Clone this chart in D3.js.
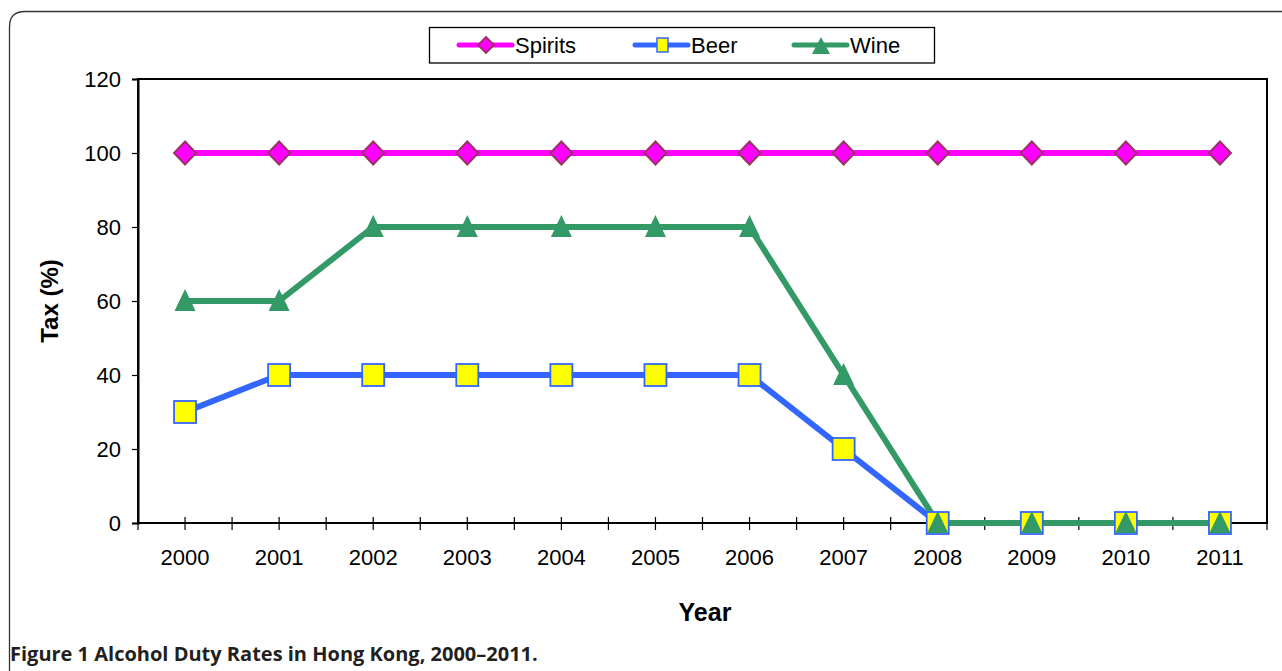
<!DOCTYPE html>
<html><head><meta charset="utf-8">
<script src="https://cdn.jsdelivr.net/npm/d3@7"></script>
<style>body{margin:0;background:#fff}svg{display:block}</style>
</head><body>
<svg id="c" width="1282" height="671"></svg>
<script>
const years = ["2000","2001","2002","2003","2004","2005","2006","2007","2008","2009","2010","2011"];
const spirits = [100,100,100,100,100,100,100,100,100,100,100,100];
const beer = [30,40,40,40,40,40,40,20,0,0,0,0];
const wine = [60,60,80,80,80,80,80,40,0,0,0,0];
const yTicks = [0,20,40,60,80,100,120];
const seriesNames = ["Spirits","Beer","Wine"];

const svg = d3.select("#c");
const L = 138, R = 1267, T = 79, B = 523;

// outer frame
svg.append("path")
  .attr("d", `M9.5,680 L9.5,27 Q9.5,11.5 25,11.5 L1290,11.5`)
  .attr("fill","none").attr("stroke","#333").attr("stroke-width",1.3);

const x = d3.scaleBand().domain(years).range([L,R]);
const y = d3.scaleLinear().domain([0,120]).range([B,T]);
const cx = d => x(d) + x.bandwidth()/2;

// plot box
svg.append("rect").attr("x",L).attr("y",T).attr("width",R-L).attr("height",B-T)
  .attr("fill","none").attr("stroke","#000").attr("stroke-width",2);

// y axis
const ya = svg.append("g").attr("transform",`translate(${L},0)`)
  .call(d3.axisLeft(y).tickValues(yTicks).tickSize(6).tickPadding(11));
ya.select(".domain").attr("stroke-width",2);
ya.selectAll("line").attr("stroke-width",1.2);
ya.selectAll("text").attr("font-family","Liberation Sans, Arial").attr("font-size",22).attr("fill","#000");

// x axis
const xa = svg.append("g").attr("transform",`translate(0,${B})`)
  .call(d3.axisBottom(x).tickSize(0).tickPadding(26));
xa.select(".domain").remove();
xa.selectAll("text").attr("font-family","Liberation Sans, Arial").attr("font-size",22).attr("fill","#000");
const tickPos = years.map(cx).concat(years.map(d=>x(d))).concat([R]);
svg.append("g").selectAll("line").data(tickPos).join("line")
  .attr("x1",d=>d).attr("x2",d=>d).attr("y1",B-6).attr("y2",B+7)
  .attr("stroke","#000").attr("stroke-width",1.2);

// axis titles
svg.append("text").attr("transform","translate(58,301) rotate(-90)")
  .attr("text-anchor","middle").attr("font-family","Liberation Sans, Arial")
  .attr("font-weight","bold").attr("font-size",24).text("Tax (%)");
svg.append("text").attr("x",705).attr("y",621).attr("text-anchor","middle")
  .attr("font-family","Liberation Sans, Arial").attr("font-weight","bold").attr("font-size",25).text("Year");

// lines
const line = d3.line().x((d,i)=>cx(years[i])).y(d=>y(d));
const colors = {Spirits:"#ff00ff", Beer:"#3366ff", Wine:"#339966"};
const data = {Spirits:spirits, Beer:beer, Wine:wine};

function marker(g, name, px, py){
  if(name==="Spirits"){
    g.append("path").attr("d",`M${px},${py-11.5}L${px+11},${py}L${px},${py+11.5}L${px-11},${py}Z`)
      .attr("fill","#ff00ff").attr("stroke","#993366").attr("stroke-width",2);
  } else if(name==="Beer"){
    g.append("rect").attr("x",px-11).attr("y",py-11).attr("width",22).attr("height",22)
      .attr("fill","#ffff00").attr("stroke","#3366ff").attr("stroke-width",1.8);
  } else {
    g.append("path").attr("d",`M${px},${py-12}L${px+10.5},${py+10}L${px-10.5},${py+10}Z`)
      .attr("fill","#339966");
  }
}

["Spirits","Beer","Wine"].forEach(name=>{
  svg.append("path").datum(data[name]).attr("d",line)
    .attr("fill","none").attr("stroke",colors[name]).attr("stroke-width",6).attr("stroke-linejoin","round");
});
["Spirits","Beer","Wine"].forEach(name=>{
  const g = svg.append("g");
  data[name].forEach((v,i)=>marker(g,name,cx(years[i]),y(v)));
});

// legend
svg.append("rect").attr("x",429.5).attr("y",27.5).attr("width",505).attr("height",35.5)
  .attr("fill","#fff").attr("stroke","#000").attr("stroke-width",1.3);
const legX = [459, 635, 794];
seriesNames.forEach((name,i)=>{
  const g = svg.append("g");
  const x0 = legX[i], ly = 45;
  g.append("line").attr("x1",x0).attr("x2",x0+53).attr("y1",ly).attr("y2",ly)
    .attr("stroke",colors[name]).attr("stroke-width",5).attr("stroke-linecap","round");
  if(name==="Spirits"){
    g.append("path").attr("d",`M${x0+27},${ly-8}L${x0+35},${ly}L${x0+27},${ly+8}L${x0+19},${ly}Z`)
      .attr("fill","#ff00ff").attr("stroke","#993366").attr("stroke-width",1.8);
  } else if(name==="Beer"){
    g.append("rect").attr("x",x0+22).attr("y",ly-7).attr("width",11).attr("height",14)
      .attr("fill","#ffff00").attr("stroke","#3366ff").attr("stroke-width",1.5);
  } else {
    g.append("path").attr("d",`M${x0+27},${ly-8}L${x0+36},${ly+9}L${x0+18},${ly+9}Z`).attr("fill","#339966");
  }
  g.append("text").attr("x",x0+56).attr("y",ly+8).attr("font-family","Liberation Sans, Arial")
    .attr("font-size",22).attr("fill","#000").text(name);
});

// caption
svg.append("text").attr("x",10).attr("y",661).attr("font-family","Open Sans, sans-serif")
  .attr("font-weight","bold").attr("font-size",20).attr("fill","#231f20")
  .text("Figure 1 Alcohol Duty Rates in Hong Kong, 2000–2011.");
</script>
</body></html>
